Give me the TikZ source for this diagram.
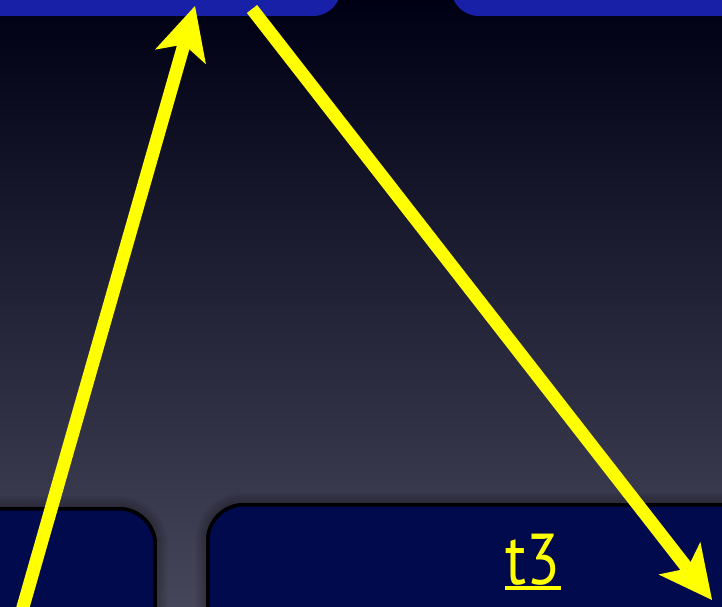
\documentclass[tikz,border=0pt]{standalone}
\usepackage{fontspec}
\setmainfont{PT Sans}
\usetikzlibrary{arrows.meta}
\definecolor{bgtop}{RGB}{0,0,20}
\definecolor{bgmid}{RGB}{29,30,54}
\definecolor{bgbot}{RGB}{70,70,90}
\definecolor{topblue}{RGB}{24,32,168}
\definecolor{boxnavy}{RGB}{2,10,78}
\definecolor{arrowyellow}{RGB}{255,255,0}
\begin{document}
\begin{tikzpicture}[x=1pt,y=-1pt,
  topbox/.style={fill=topblue, draw=none, rounded corners=28pt, inner sep=0pt, outer sep=0pt},
  botbox/.style={fill=boxnavy, draw=black, line width=3.5pt, rounded corners=36pt, inner sep=0pt, outer sep=0pt},
  shadowline/.style={draw=black, opacity=0.06, rounded corners=36pt},
  conn/.style={draw=arrowyellow, line width=13pt,
    -{Stealth[length=53pt, width=53pt, inset=13pt, line width=0pt, fill=arrowyellow]}},
  label/.style={text=arrowyellow, font=\fontsize{72}{72}\selectfont, inner sep=0pt, anchor=base, xscale=0.86}]
\useasboundingbox (0,0) rectangle (722,607);
\clip (0,0) rectangle (722,607);
\shade[top color=bgtop, middle color=bgmid, bottom color=bgbot] (0,0) rectangle (722,607);

% top boxes (cut off by the top edge)
\node[topbox, minimum width=402pt, minimum height=112pt] (tl) at (140,-40) {};
\node[topbox, minimum width=400pt, minimum height=112pt] (tr) at (651,-40) {};

% bottom boxes with soft shadow
\node[botbox, minimum width=215.25pt, minimum height=191.25pt] (bl) at (47.6,604.4) {};
\node[botbox, minimum width=592.25pt, minimum height=195.25pt] (br) at (503.9,602.4) {};
\begin{scope}
\foreach \w in {24,19,14,9} {
  \draw[shadowline, line width=\w pt] (bl.north west) rectangle (bl.south east);
  \draw[shadowline, line width=\w pt] (br.north west) rectangle (br.south east);
}
\end{scope}
\node[botbox, minimum width=215.25pt, minimum height=191.25pt] at (47.6,604.4) {};
\node[botbox, minimum width=592.25pt, minimum height=195.25pt] at (503.9,602.4) {};

% label
\node[label] (t3) at (533,584) {t3};
\draw[arrowyellow, line width=3.5pt] ([yshift=-4pt]t3.base west) -- ([yshift=-4pt]t3.base east);

% arrows
\coordinate (a1s) at (19.3,620);
\coordinate (a1e) at (195,6);
\coordinate (a2s) at (252,9);
\coordinate (a2e) at (712,600);
\draw[conn] (a1s) -- (a1e);
\draw[conn] (a2s) -- (a2e);
\end{tikzpicture}
\end{document}
